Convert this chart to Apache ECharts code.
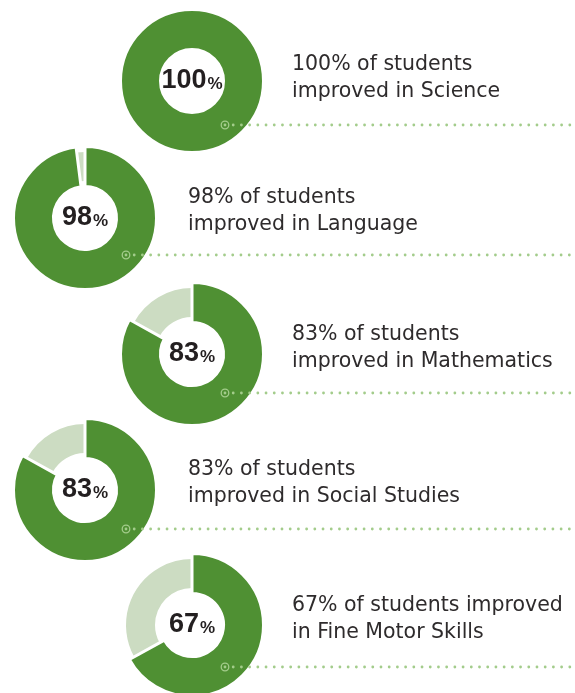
<!DOCTYPE html>
<html>
<head>
<meta charset="utf-8">
<script src="https://cdn.jsdelivr.net/npm/echarts@6/dist/echarts.min.js"></script>
<style>
  html, body { margin: 0; padding: 0; background: #fff; }
  #chart { width: 575px; height: 693px; }
</style>
</head>
<body>
<div id="chart"></div>
<script>
// Data
const subjects = ['Science', 'Language', 'Mathematics', 'Social Studies', 'Fine Motor Skills']
const percents = [100, 98, 83, 83, 67]
const captionLine1 = ['100% of students', '98% of students', '83% of students', '83% of students', '67% of students improved']
const captionLine2 = ['improved in Science', 'improved in Language', 'improved in Mathematics', 'improved in Social Studies', 'in Fine Motor Skills']

// Layout (zigzag: right, left, right, left, right)
const centersX = [192, 85, 192, 85, 192]
const centersY = [81, 218, 354, 490, 625]
const captionX = [292, 188, 292, 188, 292]
const captionY = [65, 198.5, 335, 470, 606]
const markerX = [225, 126, 225, 126, 225]
const markerY = [125, 255, 393, 529, 667]

const GREEN = '#4f9033'
const LIGHT = '#ccdcc2'
const DOT = '#a3cc8b'
const TEXT = '#2e2b2c'

const chart = echarts.init(document.getElementById('chart'), null, { renderer: 'canvas' })

const series = []
percents.forEach((p, i) => {
  // thinner light remainder (below)
  series.push({
    type: 'pie',
    silent: true,
    animation: false,
    center: [centersX[i], centersY[i]],
    radius: [37, 66],
    startAngle: 90,
    clockwise: true,
    z: 2,
    label: { show: false },
    labelLine: { show: false },
    data: [
      { name: subjects[i], value: p, itemStyle: { color: 'rgba(0,0,0,0)' } },
      { name: 'rest', value: 100 - p, itemStyle: { color: LIGHT } }
    ]
  })
  // main green ring, white edge makes the gap
  series.push({
    type: 'pie',
    silent: true,
    animation: false,
    center: [centersX[i], centersY[i]],
    radius: [31.5, 71.5],
    startAngle: 90,
    clockwise: true,
    z: 3,
    labelLine: { show: false },
    label: {
      show: true,
      position: 'center',
      formatter: () => '{num|' + p + '}{pct|%}',
      rich: {
        num: { fontSize: 27, fontWeight: 'bold', fontFamily: 'Liberation Sans', color: '#231f20' },
        pct: { fontSize: 17, fontWeight: 'bold', fontFamily: 'Liberation Sans', color: '#231f20', verticalAlign: 'bottom', padding: [0, 0, 2, 1] }
      }
    },
    data: [
      { name: subjects[i], value: p, itemStyle: { color: GREEN, borderColor: '#fff', borderWidth: 3 } },
      { name: 'rest', value: 100 - p, itemStyle: { color: 'rgba(0,0,0,0)' }, label: { show: false } }
    ]
  })
})

const graphics = []
percents.forEach((p, i) => {
  graphics.push({
    type: 'text',
    x: captionX[i],
    y: captionY[i] - 14,
    z: 10,
    style: {
      text: captionLine1[i] + '\n' + captionLine2[i],
      fontSize: 20.5,
      fontFamily: 'DejaVu Sans',
      lineHeight: 27,
      fill: TEXT,
      align: 'left',
      verticalAlign: 'top'
    }
  })
  // dotted leader line
  graphics.push({
    type: 'line',
    z: 10,
    shape: { x1: markerX[i] + 8.2, y1: markerY[i], x2: 580, y2: markerY[i] },
    style: { stroke: DOT, lineWidth: 2.8, lineCap: 'round', lineDash: [0.01, 8.2] }
  })
  graphics.push({
    type: 'circle',
    z: 10,
    shape: { cx: markerX[i], cy: markerY[i], r: 3.8 },
    style: { fill: 'none', stroke: DOT, lineWidth: 1.3 }
  })
  graphics.push({
    type: 'circle',
    z: 10,
    shape: { cx: markerX[i], cy: markerY[i], r: 1.4 },
    style: { fill: DOT }
  })
})

chart.setOption({
  backgroundColor: '#fff',
  animation: false,
  series: series,
  graphic: graphics
})

window.addEventListener('resize', () => chart.resize())
</script>
</body>
</html>
